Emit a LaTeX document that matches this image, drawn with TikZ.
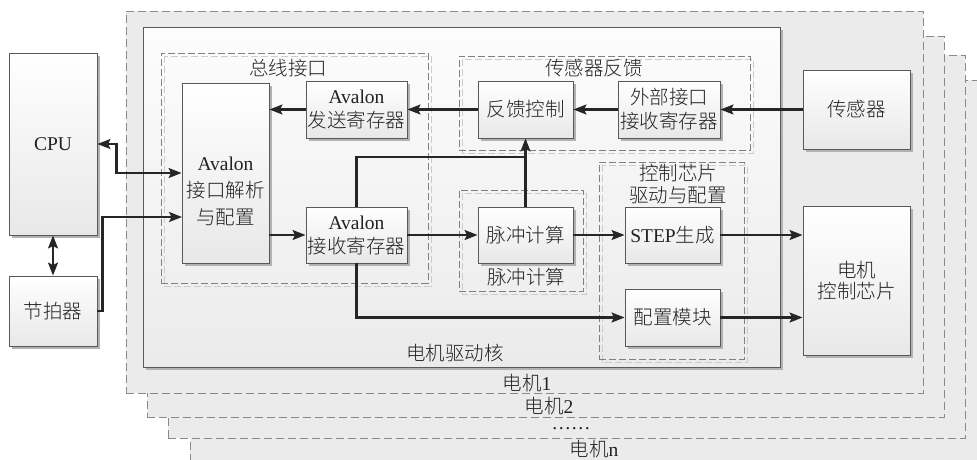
\documentclass[tikz,border=0pt]{standalone}
\usepackage{fontspec}
\setmainfont{Liberation Serif}
\newfontfamily\cjkf[UprightFont={* Light}]{Noto Sans CJK SC}
\newcommand\zhtxt[1]{{\cjkf #1}}
\usetikzlibrary{arrows.meta,shadows}
\definecolor{framefill}{HTML}{EBEBEB}
\definecolor{framedraw}{HTML}{8A8A8A}
\definecolor{txtc}{HTML}{222222}
\begin{document}
\begin{tikzpicture}[x=1pt,y=-1pt,
  every node/.style={font=\fontsize{19.5}{24}\selectfont, text=txtc, inner sep=0pt},
  frm/.style={draw=framedraw, fill=framefill, line width=0.9pt, dash pattern=on 8pt off 4pt},
  corebox/.style={draw=black!65, line width=0.9pt, top color=black!1, bottom color=black!8,
     drop shadow={shadow xshift=3pt, shadow yshift=-3pt, fill=black!30, opacity=1}},
  blk/.style={draw=black!65, line width=0.9pt, top color=white, bottom color=black!9, align=center,
     drop shadow={shadow xshift=3pt, shadow yshift=-3pt, fill=black!30, opacity=1}},
  grp/.style={draw=black!50, line width=0.8pt, dash pattern=on 7pt off 3pt},
  grpsh/.style={draw=black!20, line width=0.8pt, dash pattern=on 7pt off 3pt},
  tip/.tip={Stealth[length=13pt,width=10pt,inset=2.5pt]},
  arr/.style={line width=2.2pt, draw=black!85, -tip},
  darr/.style={line width=2.2pt, draw=black!85, tip-tip},
  lnk/.style={line width=2.2pt, draw=black!85}
]
\clip (0,0) rectangle (977,459);
\useasboundingbox (0,0) rectangle (977,459);
\fill[white] (0,0) rectangle (977,459);

% stacked motor frames
\node[frm, minimum width=800pt, minimum height=390pt] (m4) at (590,275) {};
\node[frm, minimum width=797pt, minimum height=383pt] (m3) at (566.5,246.5) {};
\node[frm, minimum width=797pt, minimum height=381pt] (m2) at (545.5,226.5) {};
\node[frm, minimum width=797pt, minimum height=382pt] (m1) at (524.5,202) {};
\node (m1t) at (527,383) {\zhtxt{电机}1};
\node (m2t) at (549,406) {\zhtxt{电机}2};
\node (m3t) at (571,429) {……};
\node (m4t) at (594,449) {\zhtxt{电机}n};

% core box
\node[corebox, minimum width=637pt, minimum height=340pt] (core) at (461.5,197) {};
\node (coret) at (455,353) {\zhtxt{电机驱动核}};

% group frames (dashed with light shadow)
\draw[grpsh] (164,56) rectangle (431,286);
\node[grp, minimum width=267pt, minimum height=230pt] (g1) at (294.5,168) {};
\node (g1t) at (288,68) {\zhtxt{总线接口}};

\draw[grpsh] (462,59) rectangle (753,153);
\node[grp, minimum width=291pt, minimum height=94pt] (g2) at (604.5,103) {};
\node (g2t) at (594,68) {\zhtxt{传感器反馈}};

\draw[grpsh] (462,193) rectangle (586,294);
\node[grp, minimum width=124pt, minimum height=101pt] (g3) at (521,240.5) {};
\node (g3t) at (526,277) {\zhtxt{脉冲计算}};

\draw[grpsh] (602,165) rectangle (747,362);
\node[grp, minimum width=145pt, minimum height=197pt] (g4) at (671.5,260.5) {};
\node[align=center, font=\fontsize{19.5}{22}\selectfont] (g4t) at (678,184) {\zhtxt{控制芯片}\\\zhtxt{驱动与配置}};

% blocks
\node[blk, minimum width=88pt, minimum height=182pt] (cpu) at (53,144) {CPU};
\node[blk, minimum width=88pt, minimum height=70pt] (jpq) at (53,311) {\zhtxt{节拍器}};
\node[blk, minimum width=87pt, minimum height=180pt] (avi) at (225.5,173) {};
\node[align=center, font=\fontsize{19.5}{27}\selectfont] (avit) at (225.5,191) {Avalon\\\zhtxt{接口解析}\\\zhtxt{与配置}};
\node[blk, minimum width=101pt, minimum height=57pt] (fs) at (356.5,109.5) {Avalon\\\zhtxt{发送寄存器}};
\node[blk, minimum width=101pt, minimum height=56pt] (js) at (356.5,235) {Avalon\\\zhtxt{接收寄存器}};
\node[blk, minimum width=95pt, minimum height=57pt] (fk) at (525.5,109.5) {\zhtxt{反馈控制}};
\node[blk, minimum width=102pt, minimum height=57pt] (wb) at (669,109.5) {\zhtxt{外部接口}\\\zhtxt{接收寄存器}};
\node[blk, minimum width=107pt, minimum height=79pt] (cgq) at (856.5,109.5) {\zhtxt{传感器}};
\node[blk, minimum width=95pt, minimum height=56pt] (mc) at (525.5,235) {\zhtxt{脉冲计算}};
\node[blk, minimum width=95pt, minimum height=56pt] (step) at (672.5,235) {STEP\zhtxt{生成}};
\node[blk, minimum width=95pt, minimum height=57pt] (pz) at (672.5,317.5) {\zhtxt{配置模块}};
\node[blk, minimum width=107pt, minimum height=149pt, font=\fontsize{19.5}{21}\selectfont] (chip) at (856.5,280.5) {\zhtxt{电机}\\\zhtxt{控制芯片}};

% connectors
\coordinate (aviin2) at (182,217);
\coordinate (jn) at (525.5,157);
\draw[darr] (cpu.east) -- ++(19,0) |- (avi.west);
\draw[arr] (jpq.east) -- ++(5,0) |- (aviin2);
\draw[darr] (cpu.south) -- (jpq.north);
\draw[arr] (fs.west) -- (avi.east |- fs.west);
\draw[arr] (fk.west) -- (fs.east);
\draw[arr] (wb.west) -- (fk.east);
\draw[arr] (cgq.west) -- (wb.east);
\draw[arr] (avi.east |- js.west) -- (js.west);
\draw[arr] (js.east) -- (mc.west);
\draw[arr] (mc.east) -- (step.west);
\draw[arr] (step.east) -- (chip.west |- step.east);
\draw[lnk] (js.north) |- (jn);
\draw[arr] (mc.north) -- (fk.south);
\draw[arr] (js.south) |- (pz.west);
\draw[arr] (pz.east) -- (chip.west |- pz.east);
\end{tikzpicture}
\end{document}
